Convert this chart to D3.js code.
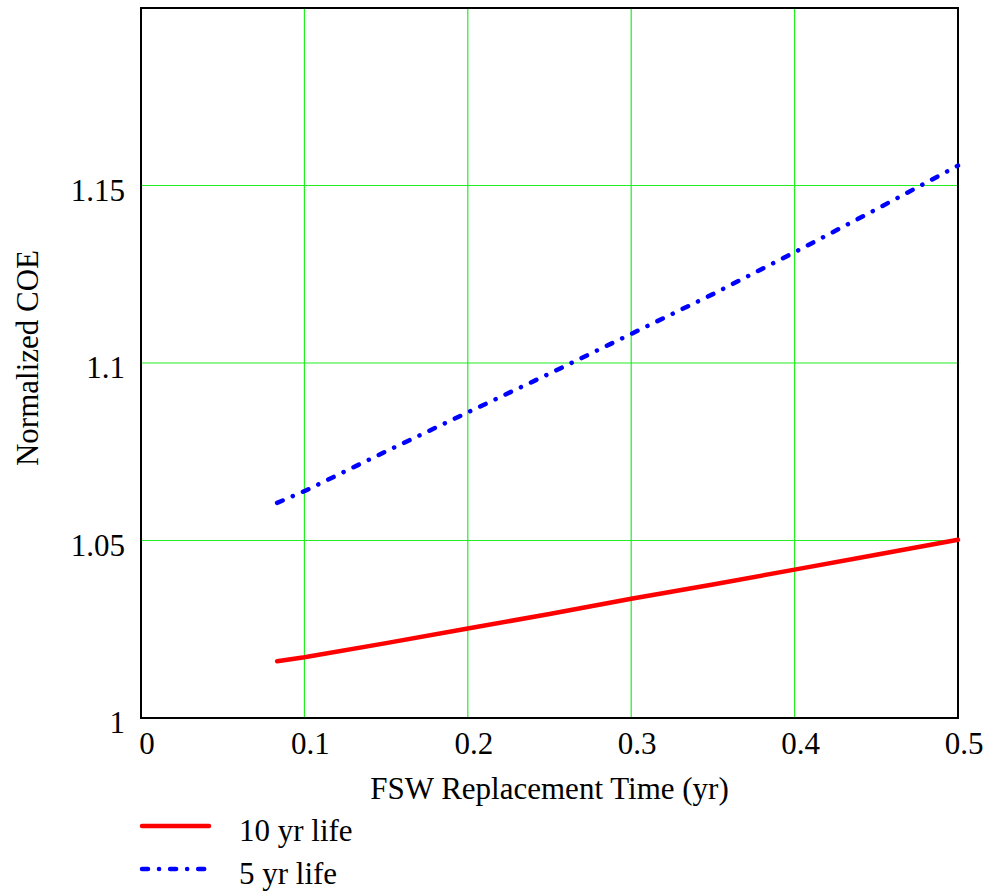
<!DOCTYPE html>
<html>
<head>
<meta charset="utf-8">
<script src="https://cdn.jsdelivr.net/npm/d3@7"></script>
<style>
  body { margin: 0; background: #fff; }
  text { font-family: "Liberation Serif", "Times New Roman", serif; fill: #000; }
</style>
</head>
<body>
<svg id="chart" width="985" height="892"></svg>
<script>
// FSW replacement time (yr)
var xValues = [0.0833, 0.1, 0.15, 0.2, 0.25, 0.3, 0.35, 0.4, 0.45, 0.5];
// normalized COE, 10 yr life
var life10 = [1.0160, 1.0171, 1.0211, 1.0252, 1.0293, 1.0336, 1.0376, 1.0418, 1.0460, 1.0502];
// normalized COE, 5 yr life
var life5 = [1.0606, 1.0639, 1.0751, 1.0861, 1.0970, 1.1082, 1.1194, 1.1312, 1.1433, 1.1556];
var xTicks = [0, 0.1, 0.2, 0.3, 0.4, 0.5];
var yTicks = [1, 1.05, 1.1, 1.15];
var seriesNames = ["10 yr life", "5 yr life"];

var margin = { left: 141, top: 8, right: 27, bottom: 174 };
var width = 985, height = 892;
var fontSize = "31px";
var svg = d3.select("#chart");

var x = d3.scaleLinear().domain([0, 0.5]).range([margin.left, width - margin.right]);
var y = d3.scaleLinear().domain([1, 1.2]).range([height - margin.bottom, margin.top]);

// grid
var grid = svg.append("g").attr("class", "grid");
grid.selectAll("line.vx")
    .data(xTicks.slice(1, -1))
    .enter().append("line")
    .attr("x1", function (d) { return x(d); })
    .attr("x2", function (d) { return x(d); })
    .attr("y1", y(1)).attr("y2", y(1.2))
    .style("stroke", "#22ee22").style("stroke-width", 1.2);
grid.selectAll("line.hy")
    .data(yTicks.slice(1))
    .enter().append("line")
    .attr("y1", function (d) { return y(d); })
    .attr("y2", function (d) { return y(d); })
    .attr("x1", x(0)).attr("x2", x(0.5))
    .style("stroke", "#22ee22").style("stroke-width", 1.2);

// frame
svg.append("rect")
    .attr("x", x(0)).attr("y", y(1.2))
    .attr("width", x(0.5) - x(0)).attr("height", y(1) - y(1.2))
    .style("fill", "none").style("stroke", "#000").style("stroke-width", 2);

// tick labels
var fmt = function (d) { return String(d); };
svg.append("g").selectAll("text")
    .data(xTicks)
    .enter().append("text")
    .attr("x", function (d) { return x(d) + 6; })
    .attr("y", y(1) + 36)
    .attr("text-anchor", "middle")
    .style("font-size", fontSize)
    .text(fmt);
svg.append("g").selectAll("text")
    .data(yTicks)
    .enter().append("text")
    .attr("x", x(0) - 16)
    .attr("y", function (d) { return y(d) + 15; })
    .attr("text-anchor", "end")
    .style("font-size", fontSize)
    .text(fmt);

// axis titles
svg.append("text")
    .attr("x", (x(0) + x(0.5)) / 2)
    .attr("y", y(1) + 81)
    .attr("text-anchor", "middle")
    .style("font-size", fontSize)
    .text("FSW Replacement Time (yr)");
svg.append("text")
    .attr("transform", "translate(38," + 358 + ") rotate(-90)")
    .attr("text-anchor", "middle")
    .style("font-size", fontSize)
    .text("Normalized COE");

// series
var line = d3.line()
    .x(function (d, i) { return x(xValues[i]); })
    .y(function (d) { return y(d); });

svg.append("path")
    .datum(life10)
    .attr("d", line)
    .style("fill", "none").style("stroke", "#ff0000")
    .style("stroke-width", 4.5).style("stroke-linecap", "round");
svg.append("path")
    .datum(life5)
    .attr("d", line)
    .style("fill", "none").style("stroke", "#0000ff")
    .style("stroke-width", 4.5).style("stroke-linecap", "round")
    .style("stroke-dasharray", "6,11,0.1,11");

// legend
var legend = svg.append("g");
var styles = [
    { color: "#ff0000", dash: null },
    { color: "#0000ff", dash: "6,11,0.1,11" }
];
seriesNames.forEach(function (name, i) {
    var ly = 826 + i * 43;
    legend.append("line")
        .attr("x1", 142).attr("x2", 209)
        .attr("y1", ly).attr("y2", ly)
        .style("stroke", styles[i].color).style("stroke-width", 4.5)
        .style("stroke-linecap", "round")
        .style("stroke-dasharray", styles[i].dash);
    legend.append("text")
        .attr("x", 239).attr("y", ly + 15)
        .style("font-size", fontSize)
        .text(name);
});
</script>
</body>
</html>
